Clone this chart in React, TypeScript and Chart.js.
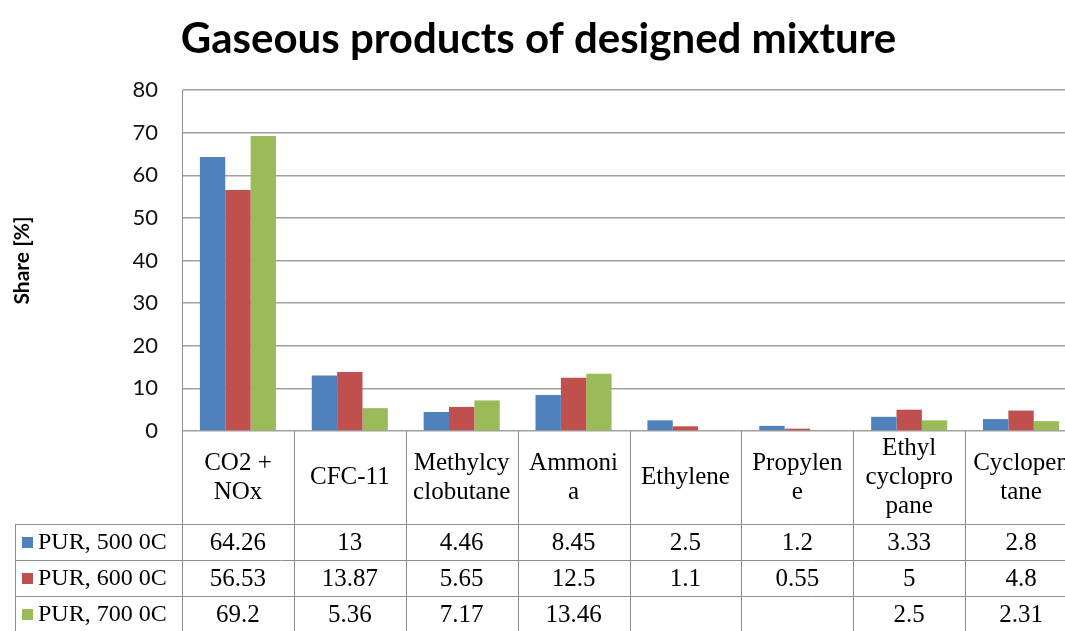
import React, { useEffect, useRef } from "react";
import { Chart, registerables } from "chart.js";

Chart.register(...registerables);

const chartTitle = "Gaseous products of designed mixture";
const yAxisTitle = "Share [%]";
const categoryLines: string[][] = [
  ["CO2 +", "NOx"],
  ["CFC-11"],
  ["Methylcy", "clobutane"],
  ["Ammoni", "a"],
  ["Ethylene"],
  ["Propylen", "e"],
  ["Ethyl", "cyclopro", "pane"],
  ["Cyclopen", "tane"],
];
const seriesNames = ["PUR, 500 0C", "PUR, 600 0C", "PUR, 700 0C"];
const pur500: (number | null)[] = [64.26, 13, 4.46, 8.45, 2.5, 1.2, 3.33, 2.8];
const pur600: (number | null)[] = [56.53, 13.87, 5.65, 12.5, 1.1, 0.55, 5, 4.8];
const pur700: (number | null)[] = [69.2, 5.36, 7.17, 13.46, null, null, 2.5, 2.31];
const seriesColors = ["#4F81BD", "#C0504D", "#9BBB59"];
const yMin = 0;
const yMax = 80;
const yStep = 10;

const seriesValues = [pur500, pur600, pur700];

const tablePlugin = {
  id: "dataTable",
  afterDraw(chart: any) {
    const ctx: CanvasRenderingContext2D = chart.ctx;
    const xs = chart.scales.x;
    const area = chart.chartArea;
    const n = categoryLines.length;
    const step = xs.getPixelForValue(1) - xs.getPixelForValue(0);
    const headerTop = area.bottom;
    const headerH = 93;
    const rowH = 36;
    const legendLeft = 15;
    const tableBottom = headerTop + headerH + rowH * seriesNames.length;
    const rightEdge = xs.getPixelForValue(n - 1) + step / 2;
    const px = (v: number) => Math.round(v) + 0.5;

    ctx.save();
    ctx.strokeStyle = "#8e8e8e";
    ctx.lineWidth = 1;
    ctx.beginPath();
    for (let i = 0; i <= n; i++) {
      const x = px(xs.getPixelForValue(i) - step / 2);
      ctx.moveTo(x, headerTop);
      ctx.lineTo(x, tableBottom);
    }
    for (let r = 0; r <= seriesNames.length; r++) {
      const y = px(headerTop + headerH + r * rowH);
      ctx.moveTo(legendLeft, y);
      ctx.lineTo(rightEdge, y);
    }
    const lx = px(legendLeft);
    ctx.moveTo(lx, headerTop + headerH);
    ctx.lineTo(lx, tableBottom);
    ctx.stroke();

    ctx.fillStyle = "#000";
    ctx.textAlign = "center";
    ctx.textBaseline = "middle";
    ctx.font = "25px 'Liberation Serif', 'Times New Roman', serif";
    const lineGap = 29;
    categoryLines.forEach((lines, i) => {
      const cx = xs.getPixelForValue(i);
      const cy = headerTop + headerH / 2;
      const start = cy - ((lines.length - 1) * lineGap) / 2;
      lines.forEach((t, k) => ctx.fillText(t, cx, start + k * lineGap));
    });

    seriesNames.forEach((name, r) => {
      const cy = headerTop + headerH + r * rowH + rowH / 2;
      ctx.fillStyle = seriesColors[r];
      ctx.fillRect(22, Math.round(cy - 5.5), 11, 11);
      ctx.fillStyle = "#000";
      ctx.textAlign = "left";
      ctx.font = "24px 'Liberation Serif', 'Times New Roman', serif";
      ctx.fillText(name, 38, cy + 1);
      ctx.textAlign = "center";
      ctx.font = "25px 'Liberation Serif', 'Times New Roman', serif";
      seriesValues[r].forEach((v, i) => {
        if (v === null || v === undefined) return;
        ctx.fillText(String(v), xs.getPixelForValue(i), cy + 1);
      });
    });
    ctx.restore();
  },
};

export default function App() {
  const canvasRef = useRef<HTMLCanvasElement | null>(null);

  useEffect(() => {
    document.body.style.margin = "0";
    const canvas = canvasRef.current;
    if (!canvas) return;
    const chart = new Chart(canvas, {
      type: "bar",
      data: {
        labels: categoryLines.map((l) => l.join("")),
        datasets: seriesNames.map((name, i) => ({
          label: name,
          data: seriesValues[i],
          backgroundColor: seriesColors[i],
          borderWidth: 0,
          categoryPercentage: 0.68,
          barPercentage: 1,
        })),
      },
      options: {
        animation: false,
        responsive: false,
        layout: { padding: { left: 0, right: 8, top: 0, bottom: 200 } },
        plugins: {
          legend: { display: false },
          tooltip: { enabled: false },
          title: {
            display: true,
            text: chartTitle,
            color: "#000",
            font: { family: "Lato, 'Open Sans', sans-serif", size: 42, weight: "bold" },
            padding: { top: 14, bottom: 25.6 },
          },
        },
        scales: {
          x: {
            display: false,
          },
          y: {
            min: yMin,
            max: yMax,
            ticks: {
              stepSize: yStep,
              color: "#111",
              padding: 24,
              font: { family: "Lato, 'Open Sans', sans-serif", size: 22 },
            },
            grid: { color: "#a0a0a0", lineWidth: 1.5, drawTicks: false },
            border: { display: true, color: "#8e8e8e", width: 1 },
            title: {
              display: true,
              text: yAxisTitle,
              color: "#000",
              font: { family: "Lato, 'Open Sans', sans-serif", size: 21, weight: "bold" },
              padding: { top: 10, bottom: 0 },
            },
            afterFit: (scale: any) => {
              scale.width = 182;
            },
          },
        },
      },
      plugins: [tablePlugin],
    });
    return () => chart.destroy();
  }, []);

  return (
    <div style={{ width: 1065, height: 631, overflow: "hidden", position: "relative", background: "#fff" }}>
      <canvas ref={canvasRef} width={1085} height={631} style={{ display: "block" }} />
    </div>
  );
}
